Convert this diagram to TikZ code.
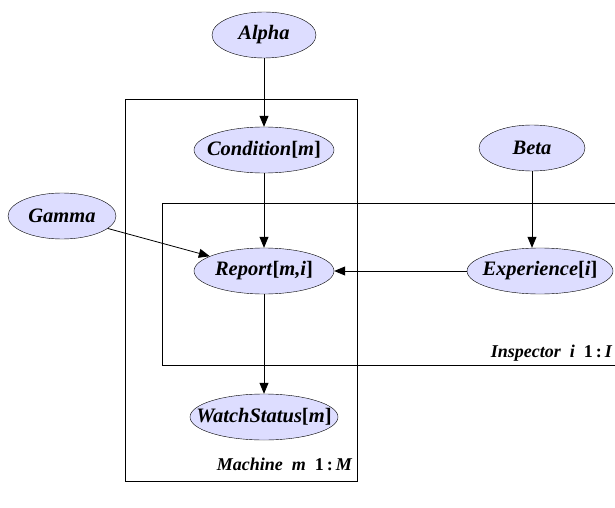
\documentclass[tikz,border=0pt]{standalone}
\usepackage{fontspec}
\setmainfont{Liberation Serif}
\usetikzlibrary{shapes.geometric,arrows.meta}

\definecolor{varfill}{RGB}{221,221,255}
\newcommand{\vtext}[1]{\makebox[0pt]{#1}} % text does not widen the ellipse
\newcommand{\ix}[1]{\textup{[}#1\textup{]}} % upright index brackets

\begin{document}
\begin{tikzpicture}[%
  x=1pt, y=-1pt, % pixel-like units, y pointing down
  var/.style={ellipse, draw=black, fill=varfill, inner sep=0pt, minimum height=46pt, minimum width=#1, font=\fontsize{20.5}{24}\selectfont\bfseries\itshape},
  var/.default=106pt,
  plate/.style={draw=black, line width=0.8pt},
  platelabel/.style={anchor=base east, inner sep=0pt, font=\fontsize{18}{21}\selectfont\bfseries\itshape},
  edge/.style={draw=black, line width=0.8pt, -{Triangle[length=11pt,width=9pt]}}
]
\clip (0,0) rectangle (615,508);

% Plates
\draw[plate] (125,99) rectangle (357,481);
\draw[plate] (162,203) rectangle (640,365);
\node[platelabel] (machlabel) at (352,470) {Machine\enspace m\enspace\textup{1\,:\,}M};
\node[platelabel] (insplabel) at (612,357) {Inspector\enspace i\enspace\textup{1\,:\,}I};

% Variables
\node[var=104pt] (alpha) at (264,35) {\vtext{Alpha}};
\node[var=140pt] (cond) at (264,150) {\vtext{Condition\ix{m}}};
\node[var=106pt] (beta) at (532,148) {\vtext{Beta}};
\node[var=108pt] (gamma) at (62,216) {\vtext{Gamma}};
\node[var=140pt] (report) at (264,271) {\vtext{Report\ix{m,i}}};
\node[var=146pt] (exper) at (540,271) {\vtext{Experience\ix{i}}};
\node[var=148pt] (watch) at (264,417) {\vtext{WatchStatus\ix{m}}};

% Edges
\draw[edge] (alpha) -- (cond);
\draw[edge] (cond) -- (report);
\draw[edge] (gamma) -- (report);
\draw[edge] (beta) -- (beta |- exper.north);
\draw[edge] (exper) -- (report);
\draw[edge] (report) -- (watch);

\end{tikzpicture}
\end{document}
